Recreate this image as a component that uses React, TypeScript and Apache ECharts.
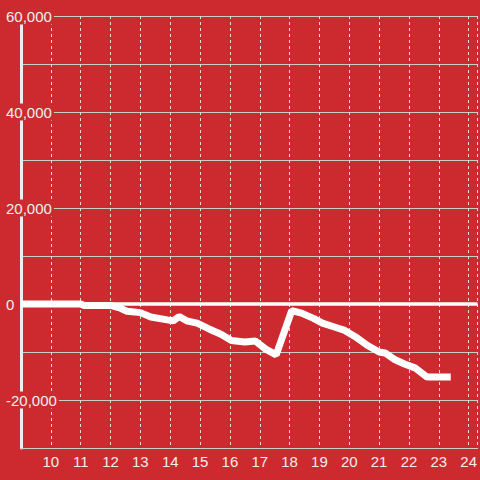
import React, { useEffect, useRef } from "react";
import * as echarts from "echarts";

const hours = [9.0, 11.0, 11.1, 12.0, 12.3, 12.55, 13.0, 13.35, 13.9, 14.1, 14.3, 14.55, 14.9, 15.3, 15.7, 16.05, 16.5, 16.85, 17.2, 17.55, 18.07, 18.4, 18.8, 19.1, 19.5, 19.85, 20.2, 20.6, 21.0, 21.2, 21.5, 21.85, 22.2, 22.6, 23.4];
const values = [0, 0, -300, -300, -800, -1500, -1800, -2700, -3300, -3500, -2600, -3500, -4000, -5200, -6300, -7600, -7900, -7700, -9400, -10600, -1400, -1900, -3000, -4000, -4800, -5500, -6800, -8600, -10000, -10200, -11500, -12500, -13300, -15200, -15200];
const labeledTicks = [60000, 40000, 20000, 0, -20000];

const RED = "#cc2a2e";

export default function App() {
  const ref = useRef<HTMLDivElement>(null);
  useEffect(() => {
    if (!ref.current) return;
    const chart = echarts.init(ref.current, null, { renderer: "svg" });
    chart.setOption({
      animation: false,
      backgroundColor: RED,
      textStyle: { fontFamily: "Liberation Sans" },
      grid: { left: 21, right: 0, top: 16, bottom: 32, containLabel: false },
      xAxis: {
        type: "value",
        min: 9,
        max: 24.3,
        interval: 1,
        axisLine: { show: true, onZero: false, lineStyle: { color: "#cccccc", width: 1 } },
        axisTick: { show: false },
        axisLabel: {
          color: "#eeeeee",
          fontSize: 15,
          margin: 6,
          showMinLabel: false,
          showMaxLabel: false,
          fontFamily: "Liberation Sans",
        },
        splitLine: { show: true, lineStyle: { color: "#dddddd", width: 1, type: [3, 3] } },
      },
      yAxis: {
        type: "value",
        min: -30000,
        max: 60000,
        interval: 10000,
        axisLine: { show: true, lineStyle: { color: "#eeeeee", width: 3 } },
        axisTick: { show: false },
        axisLabel: {
          margin: 15,
          align: "left",
          formatter: (v: number) =>
            labeledTicks.indexOf(v) >= 0 ? "{a|" + v.toLocaleString("en-US") + "}" : "",
          rich: {
            a: {
              color: "#eeeeee",
              fontSize: 15,
              fontFamily: "Liberation Sans",
              backgroundColor: RED,
              padding: [1, 2, 1, 0],
              lineHeight: 16,
            },
          },
        },
        splitLine: { show: true, lineStyle: { color: "#cccccc", width: 1 } },
      },
      series: [
        {
          type: "line",
          data: hours.map((h, i) => [h, values[i]]),
          showSymbol: false,
          symbol: "none",
          lineStyle: { color: "#ffffff", width: 7 },
          z: 3,
          markLine: {
            silent: true,
            symbol: ["none", "none"],
            label: { show: false },
            lineStyle: { color: "#ffffff", width: 3.5, type: "solid" },
            data: [{ yAxis: 0 }],
          },
        },
      ],
    });
    return () => chart.dispose();
  }, []);
  return (
    <div
      ref={ref}
      style={{ position: "fixed", left: 0, top: 0, width: 480, height: 480 }}
    />
  );
}
